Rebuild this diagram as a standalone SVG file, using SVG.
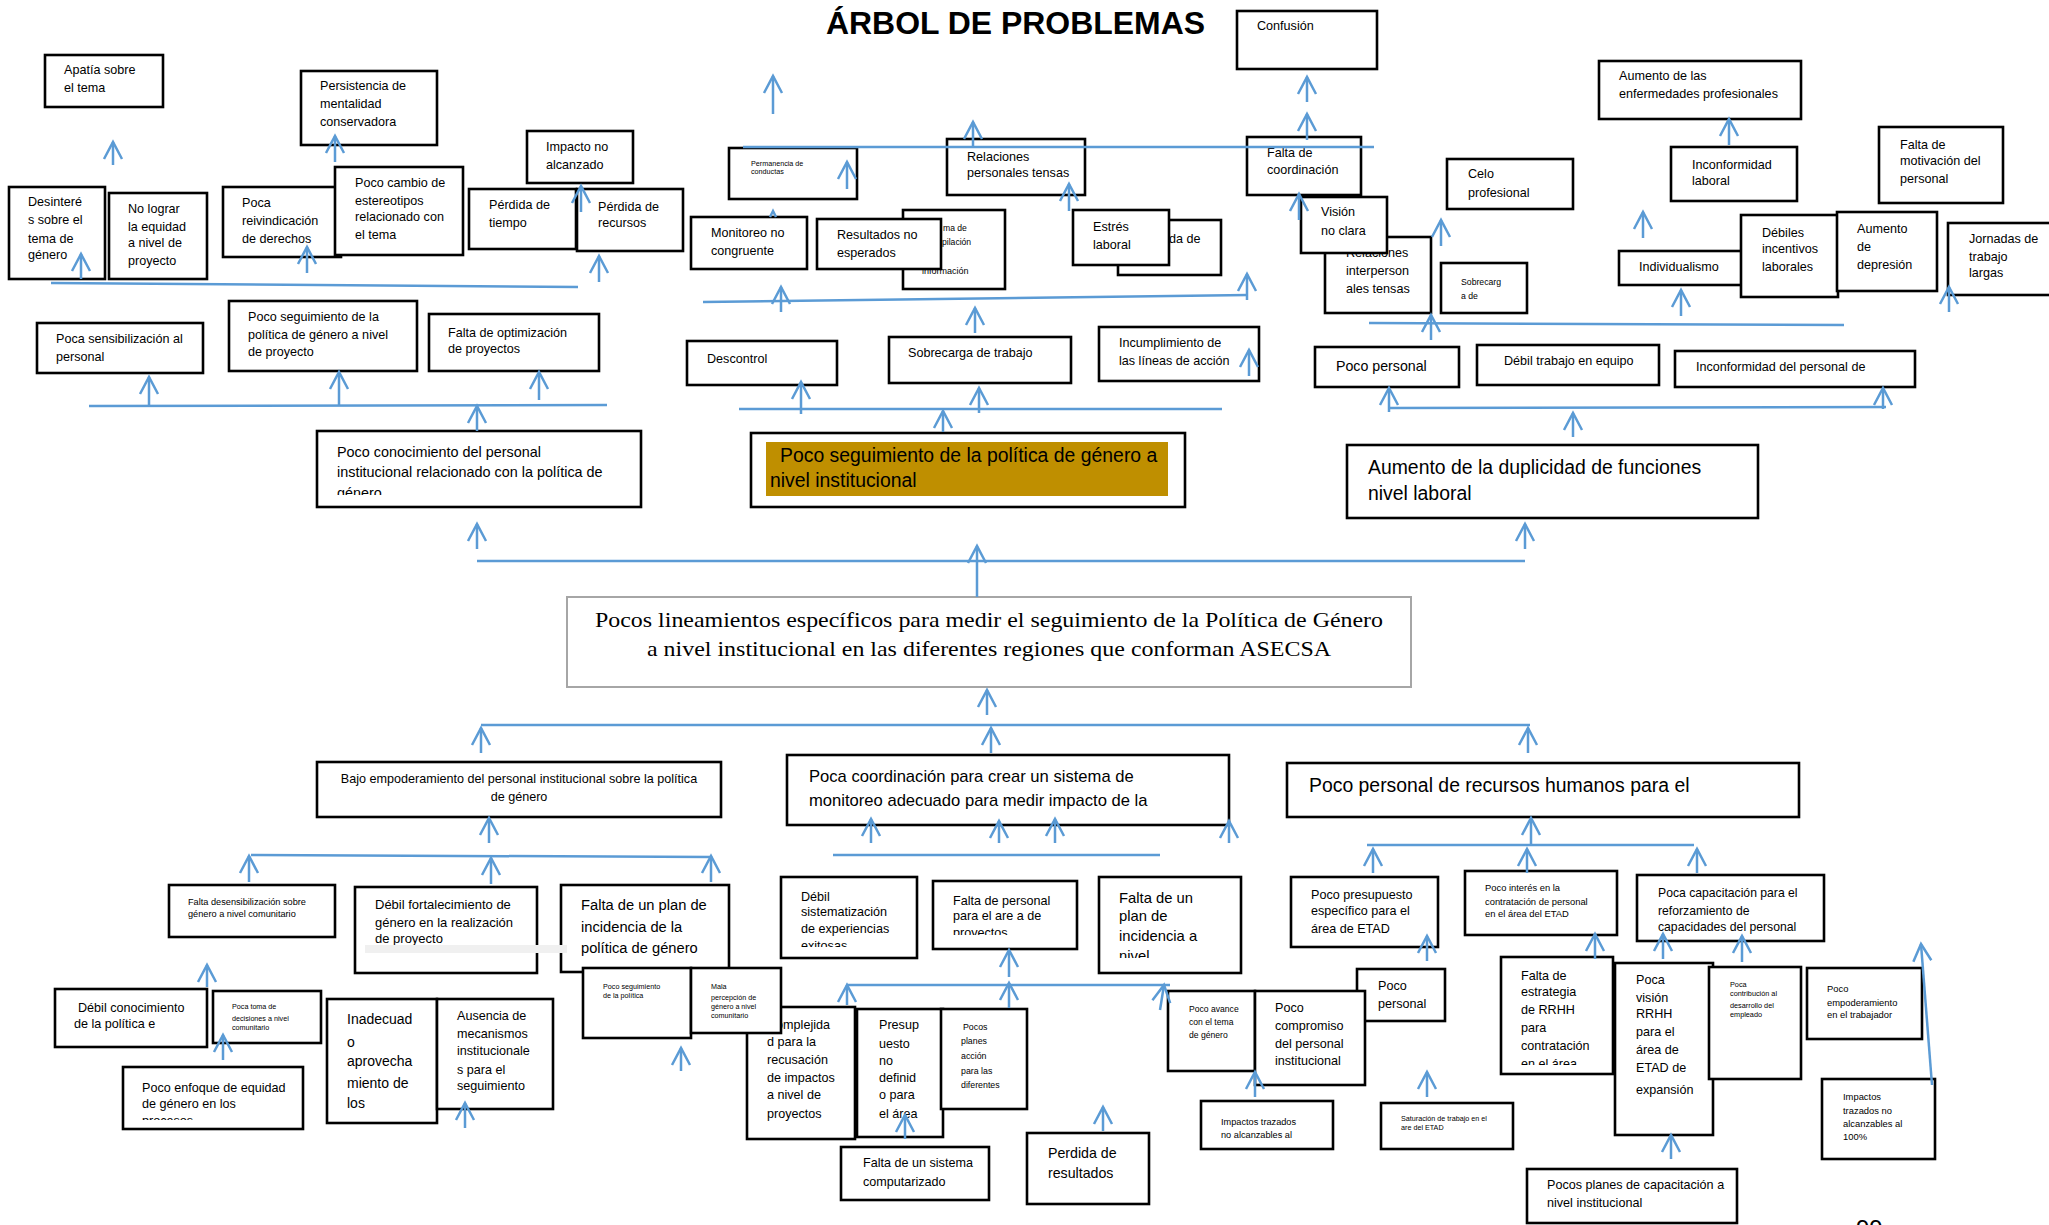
<svg xmlns="http://www.w3.org/2000/svg" width="2049" height="1225" viewBox="0 0 2049 1225" font-size="12.6">
<style>
rect.b{fill:#fff;stroke:#000;stroke-width:2.6}
text{font-family:"Liberation Sans",Arial,sans-serif;fill:#000}
.s7{font-size:7.2px}.s9{font-size:9.2px}.s13{font-size:13px}.s14{font-size:14.4px}.s16{font-size:16.6px}.s19{font-size:19.4px}
.serif{font-family:"Liberation Serif","Times New Roman",serif;font-size:22px}
.c{stroke:#5b9bd5;stroke-width:2.5;fill:none}
.a{stroke:#5b9bd5;stroke-width:2.5;fill:none;marker-end:url(#ah)}
</style>
<defs>
<marker id="ah" markerUnits="userSpaceOnUse" markerWidth="20" markerHeight="20" viewBox="0 0 20 20" refX="18" refY="10" orient="auto" overflow="visible">
<path d="M1,1 L18,10 L1,19" fill="none" stroke="#5b9bd5" stroke-width="2.5"/>
</marker>
<clipPath id="k1"><rect x="317" y="431" width="324" height="64"/></clipPath>
<clipPath id="k2"><rect x="123" y="1067" width="180" height="53"/></clipPath>
<clipPath id="k3"><rect x="781" y="877" width="136" height="70"/></clipPath>
<clipPath id="k4"><rect x="933" y="881" width="144" height="54"/></clipPath>
<clipPath id="k5"><rect x="1099" y="877" width="142" height="81"/></clipPath>
<clipPath id="k6"><rect x="1501" y="957" width="112" height="108"/></clipPath>
<clipPath id="k7"><rect x="903" y="266" width="102" height="23"/></clipPath>
</defs>
<rect width="2049" height="1225" fill="#fff"/>
<text x="826" y="34" font-size="31" font-weight="bold" textLength="379" lengthAdjust="spacingAndGlyphs">ÁRBOL DE PROBLEMAS</text>

<g id="n-apatia"><rect class="b" x="45" y="55" width="118" height="52"/><text x="64" y="74">Apatía  sobre<tspan x="64" y="92">el tema</tspan></text></g>
<g id="n-persistencia"><rect class="b" x="301" y="71" width="136" height="74"/><text x="320" y="90">Persistencia de<tspan x="320" y="108">mentalidad</tspan><tspan x="320" y="126">conservadora</tspan></text></g>
<g id="n-impacto"><rect class="b" x="527" y="131" width="106" height="52"/><text x="546" y="151">Impacto no<tspan x="546" y="169">alcanzado</tspan></text></g>
<g id="n-desinteres"><rect class="b" x="9" y="187" width="96" height="92"/><text x="28" y="206">Desinteré<tspan x="28" y="224">s sobre el</tspan><tspan x="28" y="243">tema de</tspan><tspan x="28" y="259">género</tspan></text></g>
<g id="n-nolograr"><rect class="b" x="109" y="193" width="98" height="86"/><text x="128" y="213">No lograr<tspan x="128" y="231">la equidad</tspan><tspan x="128" y="247">a nivel de</tspan><tspan x="128" y="265">proyecto</tspan></text></g>
<g id="n-reivindicacion"><rect class="b" x="223" y="187" width="118" height="70"/><text x="242" y="207">Poca<tspan x="242" y="225">reivindicación</tspan><tspan x="242" y="243">de derechos</tspan></text></g>
<g id="n-estereotipos"><rect class="b" x="335" y="167" width="128" height="88"/><text x="355" y="187">Poco cambio de<tspan x="355" y="205">estereotipos</tspan><tspan x="355" y="221">relacionado con</tspan><tspan x="355" y="239">el tema</tspan></text></g>
<g id="n-perdida-tiempo"><rect class="b" x="469" y="189" width="107" height="60"/><text x="489" y="209">Pérdida de<tspan x="489" y="227">tiempo</tspan></text></g>
<g id="n-perdida-recursos"><rect class="b" x="577" y="189" width="106" height="62"/><text x="598" y="211">Pérdida de<tspan x="598" y="227">recursos</tspan></text></g>
<g id="n-sensibilizacion"><rect class="b" x="37" y="323" width="166" height="50"/><text x="56" y="343">Poca sensibilización al<tspan x="56" y="361">personal</tspan></text></g>
<g id="n-seguimiento-proyecto"><rect class="b" x="229" y="301" width="188" height="70"/><text x="248" y="321">Poco seguimiento de la<tspan x="248" y="339">política de género a nivel</tspan><tspan x="248" y="356">de proyecto</tspan></text></g>
<g id="n-optimizacion"><rect class="b" x="429" y="314" width="170" height="57"/><text x="448" y="337">Falta de optimización<tspan x="448" y="353">de proyectos</tspan></text></g>
<g id="n-conocimiento"><rect class="b" x="317" y="431" width="324" height="76"/><text class="s14" x="337" y="457" clip-path="url(#k1)">Poco conocimiento del personal<tspan x="337" y="477">institucional relacionado con la política de</tspan><tspan x="337" y="498">género</tspan></text></g>

<g id="n-confusion"><rect class="b" x="1237" y="11" width="140" height="58"/><text x="1257" y="30">Confusión</text></g>
<g id="n-permanencia"><rect class="b" x="729" y="148" width="128" height="51"/><text class="s7" x="751" y="166">Permanencia de<tspan x="751" y="174">conductas</tspan></text></g>
<g id="n-relaciones-personales"><rect class="b" x="947" y="139" width="138" height="56"/><text x="967" y="161">Relaciones<tspan x="967" y="177">personales tensas</tspan></text></g>
<g id="n-falta-coordinacion"><rect class="b" x="1247" y="137" width="114" height="58"/><text x="1267" y="157">Falta de<tspan x="1267" y="174">coordinación</tspan></text></g>
<g id="n-sistema"><rect class="b" x="903" y="210" width="102" height="79"/><text font-size="8.6" x="943" y="231">ma  de<tspan x="942" y="245">pilación</tspan></text><text font-size="9" x="922" y="274" clip-path="url(#k7)">información</text></g>
<g id="n-monitoreo"><rect class="b" x="691" y="217" width="116" height="52"/><text x="711" y="237">Monitoreo no<tspan x="711" y="255">congruente</tspan></text></g>
<g id="n-resultados"><rect class="b" x="817" y="219" width="124" height="50"/><text x="837" y="239">Resultados no<tspan x="837" y="257">esperados</tspan></text></g>
<g id="n-perdida-de"><rect class="b" x="1118" y="220" width="103" height="55"/><text x="1169" y="243">da de</text></g>
<g id="n-estres"><rect class="b" x="1073" y="210" width="96" height="55"/><text x="1093" y="231">Estrés<tspan x="1093" y="249">laboral</tspan></text></g>
<g id="n-descontrol"><rect class="b" x="687" y="341" width="150" height="44"/><text x="707" y="363">Descontrol</text></g>
<g id="n-sobrecarga"><rect class="b" x="889" y="337" width="182" height="46"/><text x="908" y="357">Sobrecarga de trabajo</text></g>
<g id="n-incumplimiento"><rect class="b" x="1099" y="327" width="160" height="54"/><text x="1119" y="347">Incumplimiento de<tspan x="1119" y="365">las líneas de acción</tspan></text></g>
<g id="n-seguimiento-institucional"><rect class="b" x="751" y="433" width="434" height="74"/><rect x="766" y="442" width="402" height="54" fill="#bf8f00"/><text class="s19" x="780" y="462">Poco seguimiento de la política de género a<tspan x="770" y="487">nivel institucional</tspan></text></g>

<g id="n-relaciones-inter"><rect class="b" x="1325" y="237" width="106" height="76"/><text x="1346" y="257">Relaciones<tspan x="1346" y="275">interperson</tspan><tspan x="1346" y="293">ales tensas</tspan></text></g>
<g id="n-vision"><rect class="b" x="1301" y="197" width="86" height="56"/><text x="1321" y="216">Visión<tspan x="1321" y="235">no clara</tspan></text></g>
<g id="n-celo"><rect class="b" x="1447" y="159" width="126" height="50"/><text x="1468" y="178">Celo<tspan x="1468" y="197">profesional</tspan></text></g>
<g id="n-sobrecarga2"><rect class="b" x="1441" y="263" width="86" height="50"/><text font-size="8.7" x="1461" y="285">Sobrecarg<tspan x="1461" y="299">a de</tspan></text></g>
<g id="n-poco-personal"><rect class="b" x="1315" y="347" width="144" height="40"/><text font-size="14.2" x="1336" y="371">Poco personal</text></g>
<g id="n-trabajo-equipo"><rect class="b" x="1477" y="345" width="182" height="40"/><text x="1504" y="365">Débil trabajo en equipo</text></g>
<g id="n-inconformidad-personal"><rect class="b" x="1675" y="351" width="240" height="36"/><text x="1696" y="371">Inconformidad del personal de</text></g>
<g id="n-duplicidad"><rect class="b" x="1347" y="445" width="411" height="73"/><text class="s19" x="1368" y="474">Aumento de la duplicidad de funciones<tspan x="1368" y="500">nivel laboral</tspan></text></g>
<g id="n-enfermedades"><rect class="b" x="1599" y="61" width="202" height="58"/><text x="1619" y="80">Aumento de las<tspan x="1619" y="98">enfermedades profesionales</tspan></text></g>
<g id="n-inconformidad-laboral"><rect class="b" x="1671" y="147" width="126" height="54"/><text x="1692" y="169">Inconformidad<tspan x="1692" y="185">laboral</tspan></text></g>
<g id="n-motivacion"><rect class="b" x="1879" y="127" width="124" height="76"/><text x="1900" y="149">Falta de<tspan x="1900" y="165">motivación del</tspan><tspan x="1900" y="183">personal</tspan></text></g>
<g id="n-individualismo"><rect class="b" x="1619" y="251" width="124" height="34"/><text x="1639" y="271">Individualismo</text></g>
<g id="n-incentivos"><rect class="b" x="1741" y="215" width="97" height="82"/><text x="1762" y="237">Débiles<tspan x="1762" y="253">incentivos</tspan><tspan x="1762" y="271">laborales</tspan></text></g>
<g id="n-depresion"><rect class="b" x="1837" y="212" width="100" height="79"/><text x="1857" y="233">Aumento<tspan x="1857" y="251">de</tspan><tspan x="1857" y="269">depresión</tspan></text></g>
<g id="n-jornadas"><rect class="b" x="1948" y="223" width="110" height="72"/><text x="1969" y="243">Jornadas de<tspan x="1969" y="261">trabajo</tspan><tspan x="1969" y="277">largas</tspan></text></g>

<g id="n-lineamientos"><rect x="567" y="597" width="844" height="90" fill="#fff" stroke="#a6a6a6" stroke-width="2"/><text class="serif" text-anchor="middle" x="989" y="627" textLength="788" lengthAdjust="spacingAndGlyphs">Pocos lineamientos específicos para medir el seguimiento de la Política de Género</text><text class="serif" text-anchor="middle" x="989" y="656" textLength="684" lengthAdjust="spacingAndGlyphs">a nivel institucional en las diferentes regiones que conforman ASECSA</text></g>

<g id="n-empoderamiento"><rect class="b" x="317" y="762" width="404" height="55"/><text text-anchor="middle" x="519" y="783">Bajo empoderamiento del personal institucional sobre la política<tspan x="519" y="801">de género</tspan></text></g>
<g id="n-coordinacion-monitoreo"><rect class="b" x="787" y="755" width="442" height="70"/><text class="s16" x="809" y="782">Poca coordinación  para crear  un sistema de<tspan x="809" y="806">monitoreo  adecuado  para medir impacto  de la</tspan></text></g>
<g id="n-rrhh"><rect class="b" x="1287" y="763" width="512" height="54"/><text class="s19" x="1309" y="792">Poco personal de recursos humanos para el</text></g>

<g id="n-desensibilizacion"><rect class="b" x="169" y="885" width="166" height="52"/><text class="s9" x="188" y="905">Falta desensibilización  sobre<tspan x="188" y="917">género  a nivel  comunitario</tspan></text></g>
<g id="n-fortalecimiento"><rect class="b" x="355" y="887" width="182" height="86"/><text class="s13" x="375" y="909">Débil fortalecimiento de<tspan x="375" y="927">género en la realización</tspan><tspan x="375" y="943">de proyecto</tspan></text></g>
<g id="n-plan-incidencia"><rect class="b" x="561" y="885" width="168" height="87"/><text font-size="14.7" x="581" y="910">Falta de un plan de<tspan x="581" y="932">incidencia  de la</tspan><tspan x="581" y="953">política de género</tspan></text></g>
<rect x="365" y="945" width="202" height="8" fill="#f0f0f0"/>
<g id="n-complejidad"><rect class="b" x="747" y="1007" width="108" height="132"/><text x="767" y="1029">Complejida<tspan x="767" y="1046">d para la</tspan><tspan x="767" y="1064">recusación</tspan><tspan x="767" y="1082">de impactos</tspan><tspan x="767" y="1099">a nivel de</tspan><tspan x="767" y="1118">proyectos</tspan></text></g>
<g id="n-seguimiento-politica"><rect class="b" x="583" y="968" width="108" height="70"/><text class="s7" x="603" y="989">Poco seguimiento<tspan x="603" y="998">de la política</tspan></text></g>
<g id="n-mala-percepcion"><rect class="b" x="691" y="968" width="90" height="65"/><text class="s7" x="711" y="989">Mala<tspan x="711" y="1000">percepción de</tspan><tspan x="711" y="1009">género a nivel</tspan><tspan x="711" y="1018">comunitario</tspan></text></g>
<g id="n-debil-conocimiento"><rect class="b" x="55" y="989" width="152" height="58"/><text x="78" y="1012">Débil conocimiento<tspan x="74" y="1028">de la política e</tspan></text></g>
<g id="n-toma-decisiones"><rect class="b" x="213" y="991" width="108" height="52"/><text class="s7" x="232" y="1009">Poca toma de<tspan x="232" y="1021">decisiones a nivel</tspan><tspan x="232" y="1030">comunitario</tspan></text></g>
<g id="n-enfoque"><rect class="b" x="123" y="1067" width="180" height="62"/><text x="142" y="1092" clip-path="url(#k2)">Poco enfoque de equidad<tspan x="142" y="1108">de género en los</tspan><tspan x="142" y="1125">procesos</tspan></text></g>
<g id="n-inadecuado"><rect class="b" x="327" y="999" width="110" height="124"/><text font-size="14" x="347" y="1024">Inadecuad<tspan x="347" y="1047">o</tspan><tspan x="347" y="1066">aprovecha</tspan><tspan x="347" y="1088">miento de</tspan><tspan x="347" y="1108">los</tspan></text></g>
<g id="n-ausencia"><rect class="b" x="437" y="999" width="116" height="110"/><text x="457" y="1020">Ausencia de<tspan x="457" y="1038">mecanismos</tspan><tspan x="457" y="1055">institucionale</tspan><tspan x="457" y="1074">s para el</tspan><tspan x="457" y="1090">seguimiento</tspan></text></g>

<g id="n-sistematizacion"><rect class="b" x="781" y="877" width="136" height="81"/><text x="801" y="901" clip-path="url(#k3)">Débil<tspan x="801" y="916">sistematización</tspan><tspan x="801" y="933">de experiencias</tspan><tspan x="801" y="950">exitosas</tspan></text></g>
<g id="n-falta-personal"><rect class="b" x="933" y="881" width="144" height="68"/><text x="953" y="905" clip-path="url(#k4)">Falta de personal<tspan x="953" y="920">para el are a de</tspan><tspan x="953" y="937">proyectos</tspan></text></g>
<g id="n-plan-nivel"><rect class="b" x="1099" y="877" width="142" height="96"/><text font-size="14.8" x="1119" y="903" clip-path="url(#k5)">Falta de un<tspan x="1119" y="921">plan de</tspan><tspan x="1119" y="941">incidencia  a</tspan><tspan x="1119" y="961">nivel</tspan></text></g>
<g id="n-presupuesto"><rect class="b" x="857" y="1009" width="86" height="128"/><text x="879" y="1029">Presup<tspan x="879" y="1048">uesto</tspan><tspan x="879" y="1065">no</tspan><tspan x="879" y="1082">definid</tspan><tspan x="879" y="1099">o para</tspan><tspan x="879" y="1118">el área</tspan></text></g>
<g id="n-planes-accion"><rect class="b" x="941" y="1009" width="86" height="100"/><text font-size="8.8" x="963" y="1030">Pocos<tspan x="961" y="1044">planes</tspan><tspan x="961" y="1059">acción</tspan><tspan x="961" y="1074">para las</tspan><tspan x="961" y="1088">diferentes</tspan></text></g>
<g id="n-sistema-computarizado"><rect class="b" x="841" y="1147" width="148" height="53"/><text x="863" y="1167">Falta de un sistema<tspan x="863" y="1186">computarizado</tspan></text></g>
<g id="n-perdida-resultados"><rect class="b" x="1027" y="1133" width="122" height="71"/><text font-size="14.2" x="1048" y="1158">Perdida de<tspan x="1048" y="1178">resultados</tspan></text></g>
<g id="n-avance"><rect class="b" x="1168" y="991" width="87" height="80"/><text font-size="8.6" x="1189" y="1012">Poco avance<tspan x="1189" y="1025">con el tema</tspan><tspan x="1189" y="1038">de género</tspan></text></g>
<g id="n-poco-personal2"><rect class="b" x="1357" y="969" width="88" height="52"/><text x="1378" y="990">Poco<tspan x="1378" y="1008">personal</tspan></text></g>
<g id="n-compromiso"><rect class="b" x="1255" y="991" width="110" height="94"/><text x="1275" y="1012">Poco<tspan x="1275" y="1030">compromiso</tspan><tspan x="1275" y="1048">del personal</tspan><tspan x="1275" y="1065">institucional</tspan></text></g>
<g id="n-impactos-al"><rect class="b" x="1201" y="1101" width="132" height="48"/><text class="s9" x="1221" y="1125">Impactos  trazados<tspan x="1221" y="1138">no alcanzables   al</tspan></text></g>
<g id="n-saturacion"><rect class="b" x="1381" y="1103" width="132" height="46"/><text class="s7" x="1401" y="1121">Saturación de trabajo  en el<tspan x="1401" y="1130">are del ETAD</tspan></text></g>
<g id="n-presupuesto-etad"><rect class="b" x="1291" y="877" width="147" height="70"/><text x="1311" y="899">Poco presupuesto<tspan x="1311" y="915">específico para el</tspan><tspan x="1311" y="933">área de ETAD</tspan></text></g>
<g id="n-interes"><rect class="b" x="1465" y="871" width="152" height="64"/><text font-size="9.4" x="1485" y="891">Poco interés en  la<tspan x="1485" y="905">contratación de personal</tspan><tspan x="1485" y="917">en el área del ETAD</tspan></text></g>
<g id="n-capacitacion"><rect class="b" x="1637" y="875" width="187" height="66"/><text font-size="12.2" x="1658" y="897">Poca capacitación para el<tspan x="1658" y="915">reforzamiento de</tspan><tspan x="1658" y="931">capacidades del personal</tspan></text></g>
<g id="n-estrategia"><rect class="b" x="1501" y="957" width="112" height="117"/><text x="1521" y="980" clip-path="url(#k6)">Falta de<tspan x="1521" y="996">estrategia</tspan><tspan x="1521" y="1014">de RRHH</tspan><tspan x="1521" y="1032">para</tspan><tspan x="1521" y="1050">contratación</tspan><tspan x="1521" y="1068">en el área</tspan></text></g>
<g id="n-vision-rrhh"><rect class="b" x="1615" y="963" width="98" height="172"/><text x="1636" y="984">Poca<tspan x="1636" y="1002">visión</tspan><tspan x="1636" y="1018">RRHH</tspan><tspan x="1636" y="1036">para el</tspan><tspan x="1636" y="1054">área de</tspan><tspan x="1636" y="1072">ETAD de</tspan><tspan x="1636" y="1094">expansión</tspan></text></g>
<g id="n-contribucion"><rect class="b" x="1709" y="967" width="92" height="112"/><text font-size="7.3" x="1730" y="987">Poca<tspan x="1730" y="996">contribución al</tspan><tspan x="1730" y="1008">desarrollo del</tspan><tspan x="1730" y="1017">empleado</tspan></text></g>
<g id="n-empoderamiento-trabajador"><rect class="b" x="1807" y="968" width="115" height="71"/><text font-size="9.4" x="1827" y="992">Poco<tspan x="1827" y="1006">empoderamiento</tspan><tspan x="1827" y="1018">en el trabajador</tspan></text></g>
<g id="n-impactos-100"><rect class="b" x="1822" y="1079" width="113" height="80"/><text font-size="9.4" x="1843" y="1100">Impactos<tspan x="1843" y="1114">trazados no</tspan><tspan x="1843" y="1127">alcanzables  al</tspan><tspan x="1843" y="1140">100%</tspan></text></g>
<g id="n-planes-capacitacion"><rect class="b" x="1527" y="1169" width="210" height="54"/><text x="1547" y="1189">Pocos planes de capacitación a<tspan x="1547" y="1207">nivel institucional</tspan></text></g>
<text x="1856" y="1237" font-size="24">99</text>

<g id="connectors">
<line class="a" x1="113" y1="165" x2="113" y2="142"/>
<line class="a" x1="335" y1="162" x2="335" y2="136"/>
<line class="a" x1="581" y1="212" x2="581" y2="186"/>
<line class="a" x1="81" y1="279" x2="81" y2="254"/>
<line class="a" x1="307" y1="273" x2="307" y2="247"/>
<line class="a" x1="599" y1="282" x2="599" y2="256"/>
<line class="c" x1="51" y1="283" x2="578" y2="287"/>
<line class="a" x1="149" y1="405" x2="149" y2="377"/>
<line class="a" x1="339" y1="405" x2="339" y2="372"/>
<line class="a" x1="539" y1="400" x2="539" y2="372"/>
<line class="c" x1="89" y1="406" x2="607" y2="405"/>
<line class="a" x1="477" y1="431" x2="477" y2="406"/>
<line class="a" x1="773" y1="114" x2="773" y2="76"/>
<line class="a" x1="1307" y1="102" x2="1307" y2="77"/>
<line class="a" x1="1307" y1="140" x2="1307" y2="114"/>
<line class="c" x1="743" y1="147" x2="1374" y2="147"/>
<line class="a" x1="847" y1="189" x2="847" y2="162"/>
<line class="a" x1="973" y1="147" x2="973" y2="122"/>
<line class="a" x1="1069" y1="211" x2="1069" y2="184"/>
<line class="a" x1="1299" y1="220" x2="1299" y2="194"/>
<path class="c" d="M770,217 L773,211 L776,217"/>
<line class="a" x1="781" y1="312" x2="781" y2="287"/>
<line class="c" x1="703" y1="302" x2="1248" y2="295"/>
<line class="a" x1="1247" y1="300" x2="1247" y2="274"/>
<line class="a" x1="975" y1="333" x2="975" y2="308"/>
<line class="a" x1="801" y1="414" x2="801" y2="382"/>
<line class="a" x1="979" y1="413" x2="979" y2="388"/>
<line class="a" x1="1249" y1="376" x2="1249" y2="350"/>
<line class="c" x1="739" y1="409" x2="1222" y2="409"/>
<line class="a" x1="943" y1="432" x2="943" y2="411"/>
<line class="a" x1="1441" y1="246" x2="1441" y2="220"/>
<line class="a" x1="1431" y1="340" x2="1431" y2="315"/>
<line class="c" x1="1369" y1="323" x2="1844" y2="325"/>
<line class="a" x1="1729" y1="145" x2="1729" y2="119"/>
<line class="a" x1="1643" y1="238" x2="1643" y2="212"/>
<line class="a" x1="1681" y1="316" x2="1681" y2="290"/>
<line class="a" x1="1949" y1="312" x2="1949" y2="287"/>
<line class="a" x1="1389" y1="412" x2="1389" y2="388"/>
<line class="c" x1="1389" y1="408" x2="1886" y2="407"/>
<line class="a" x1="1883" y1="409" x2="1883" y2="388"/>
<line class="a" x1="1573" y1="437" x2="1573" y2="413"/>
<line class="a" x1="477" y1="549" x2="477" y2="524"/>
<line class="c" x1="477" y1="561" x2="1525" y2="561"/>
<line class="a" x1="1525" y1="549" x2="1525" y2="524"/>
<line class="a" x1="977" y1="597" x2="977" y2="546"/>
<line class="a" x1="987" y1="715" x2="987" y2="690"/>
<line class="c" x1="481" y1="725" x2="1530" y2="725"/>
<line class="a" x1="481" y1="753" x2="481" y2="728"/>
<line class="a" x1="991" y1="753" x2="991" y2="728"/>
<line class="a" x1="1528" y1="753" x2="1528" y2="728"/>
<line class="a" x1="489" y1="843" x2="489" y2="818"/>
<line class="c" x1="251" y1="855" x2="711" y2="857"/>
<line class="a" x1="249" y1="882" x2="249" y2="856"/>
<line class="a" x1="491" y1="884" x2="491" y2="858"/>
<line class="a" x1="711" y1="882" x2="711" y2="856"/>
<line class="a" x1="871" y1="843" x2="871" y2="819"/>
<line class="a" x1="999" y1="843" x2="999" y2="821"/>
<line class="a" x1="1055" y1="843" x2="1055" y2="819"/>
<line class="a" x1="1229" y1="843" x2="1229" y2="821"/>
<line class="c" x1="833" y1="855" x2="1160" y2="855"/>
<line class="a" x1="1009" y1="977" x2="1009" y2="950"/>
<line class="c" x1="846" y1="985" x2="1170" y2="985"/>
<line class="a" x1="847" y1="1005" x2="847" y2="985"/>
<line class="a" x1="1009" y1="1008" x2="1009" y2="983"/>
<line class="a" x1="1160" y1="1010" x2="1164" y2="985"/>
<line class="a" x1="905" y1="1139" x2="905" y2="1115"/>
<line class="a" x1="1103" y1="1131" x2="1103" y2="1107"/>
<line class="a" x1="1255" y1="1097" x2="1255" y2="1072"/>
<line class="a" x1="1427" y1="1097" x2="1427" y2="1072"/>
<line class="a" x1="1531" y1="844" x2="1531" y2="818"/>
<line class="c" x1="1367" y1="845" x2="1694" y2="845"/>
<line class="a" x1="1373" y1="873" x2="1373" y2="849"/>
<line class="a" x1="1527" y1="873" x2="1527" y2="849"/>
<line class="a" x1="1697" y1="873" x2="1697" y2="849"/>
<line class="a" x1="1427" y1="961" x2="1427" y2="936"/>
<line class="a" x1="1595" y1="959" x2="1595" y2="934"/>
<line class="a" x1="1663" y1="959" x2="1663" y2="934"/>
<line class="a" x1="1742" y1="962" x2="1742" y2="936"/>
<line class="a" x1="1932" y1="1085" x2="1921" y2="944"/>
<line class="a" x1="1671" y1="1159" x2="1671" y2="1135"/>
<line class="a" x1="207" y1="987" x2="207" y2="965"/>
<line class="a" x1="223" y1="1060" x2="223" y2="1035"/>
<line class="a" x1="465" y1="1128" x2="465" y2="1103"/>
<line class="a" x1="681" y1="1071" x2="681" y2="1048"/>
</g>
</svg>
